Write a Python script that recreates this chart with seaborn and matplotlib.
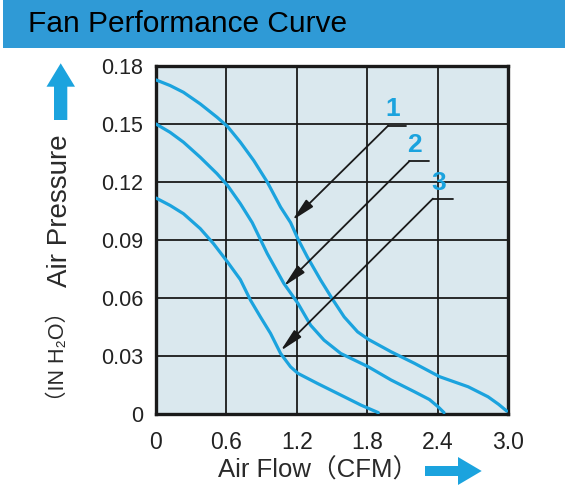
import matplotlib
matplotlib.use("Agg")
import matplotlib.pyplot as plt
from matplotlib.patches import Rectangle, Polygon, ArrowStyle
import seaborn as sns
import pandas as pd

# ---- data ----
curve1_x = [0.0, 0.12, 0.234, 0.377, 0.52, 0.61, 0.719, 0.833, 0.948, 1.062, 1.147, 1.21, 1.29, 1.404,
            1.504, 1.604, 1.718, 1.81, 2.003, 2.203, 2.417, 2.66, 2.83, 2.92, 2.99]
curve1_y = [0.1728, 0.1699, 0.1664, 0.1604, 0.1535, 0.1487, 0.1406, 0.1311, 0.120, 0.107, 0.0990, 0.0905,
            0.0812, 0.0692, 0.0594, 0.0502, 0.0425, 0.0386, 0.0322, 0.0262, 0.0193, 0.0141, 0.0089, 0.0050, 0.0015]

curve2_x = [0.0, 0.12, 0.234, 0.377, 0.52, 0.61, 0.719, 0.82, 0.948, 1.09, 1.21, 1.318, 1.432, 1.575,
            1.81, 2.003, 2.203, 2.33, 2.403, 2.455]
curve2_y = [0.1500, 0.1457, 0.1406, 0.1328, 0.1243, 0.1182, 0.1088, 0.0990, 0.0830, 0.0675, 0.0572, 0.0459,
            0.0382, 0.0313, 0.0244, 0.0176, 0.0115, 0.0075, 0.0038, 0.0007]

curve3_x = [0.0, 0.12, 0.234, 0.377, 0.49, 0.61, 0.719, 0.805, 0.89, 0.976, 1.062, 1.147, 1.21, 1.376,
            1.575, 1.747, 1.895]
curve3_y = [0.1117, 0.1079, 0.1036, 0.0959, 0.0881, 0.0786, 0.0695, 0.0589, 0.0502, 0.0417, 0.0313, 0.0244,
            0.0210, 0.0158, 0.0098, 0.0046, 0.0007]

curve_names = ["1", "2", "3"]

x_ticks = [0, 0.6, 1.2, 1.8, 2.4, 3.0]
x_tick_labels = ["0", "0.6", "1.2", "1.8", "2.4", "3.0"]
y_ticks = [0, 0.03, 0.06, 0.09, 0.12, 0.15, 0.18]
y_tick_labels = ["0", "0.03", "0.06", "0.09", "0.12", "0.15", "0.18"]

# callout positions (data coords): label, elbow start, horizontal end, arrow tip
callout_label_xy = [(2.018, 0.1578), (2.203, 0.1389), (2.408, 0.1194)]
callout_start_xy = [(1.980, 0.1492), (2.160, 0.1308), (2.360, 0.1114)]
callout_end_x = [2.132, 2.323, 2.532]
callout_tip_xy = [(1.162, 0.1002), (1.090, 0.0661), (1.062, 0.0327)]

title_text = "Fan Performance Curve"
xlabel_text = "Air Flow\uff08CFM\uff09"
ylabel_main = "Air Pressure"
ylabel_unit = "\uff08IN H\u2082O\uff09"

# ---- build table ----
frames = []
for name, xs, ys in zip(curve_names, [curve1_x, curve2_x, curve3_x], [curve1_y, curve2_y, curve3_y]):
    frames.append(pd.DataFrame({"flow": xs, "pressure": ys, "curve": name}))
df = pd.concat(frames, ignore_index=True)

sns.set_style("white")
plt.rcParams["font.family"] = ["Liberation Sans", "Noto Sans CJK SC", "DejaVu Sans"]

W, H = 568, 495
fig = plt.figure(figsize=(W / 100, H / 100), dpi=100)

def fx(px):
    return px / W

def fy(py):
    return 1 - py / H

BLUE = "#1BA3DE"

# Title banner
fig.patches.append(Rectangle((fx(3), fy(48)), fx(562), 48 / H, transform=fig.transFigure,
                             facecolor="#2F9AD6", edgecolor="none", zorder=0))
fig.text(fx(28), fy(32), title_text, fontsize=21.5, color="black", ha="left", va="baseline")

# Axes
ax = fig.add_axes([fx(156), 81 / H, 352 / W, 348 / H])
ax.set_facecolor("#DAE8EE")
sns.lineplot(data=df, x="flow", y="pressure", hue="curve", palette=[BLUE] * 3,
             sort=False, legend=False, linewidth=2.3, ax=ax, zorder=3)
for ln in ax.get_lines():
    ln.set_solid_joinstyle("round")
    ln.set_solid_capstyle("round")
ax.set_xlim(0, 3.0)
ax.set_ylim(0, 0.18)
ax.set_xticks(x_ticks)
ax.set_xticklabels(x_tick_labels)
ax.set_yticks(y_ticks)
ax.set_yticklabels(y_tick_labels)
ax.tick_params(axis="x", length=0, pad=12, labelsize=16.5, labelcolor="#222222")
ax.tick_params(axis="y", length=0, pad=9, labelsize=15.5, labelcolor="#222222")
ax.grid(True, color="#1a1a1a", linewidth=1.3)
ax.set_axisbelow(True)
for s in ax.spines.values():
    s.set_color("#1a1a1a")
    s.set_linewidth(2.4)
    s.set_visible(True)
ax.set_xlabel("")
ax.set_ylabel("")

# Callouts
for lab, (lx, ly), (sx, sy), ex, (tx, ty) in zip(curve_names, callout_label_xy, callout_start_xy,
                                                    callout_end_x, callout_tip_xy):
    ax.plot([sx, ex], [sy, sy], color="#1a1a1a", linewidth=1.3, zorder=4)
    ax.annotate("", xy=(tx, ty), xytext=(sx, sy),
                arrowprops=dict(arrowstyle=ArrowStyle("-|>", head_length=1.4, head_width=0.3),
                                color="#1a1a1a", linewidth=1.3, shrinkA=0, shrinkB=0,
                                mutation_scale=10),
                zorder=4)
    ax.text(lx, ly, lab, color=BLUE, fontsize=19, fontweight="bold", ha="center", va="center", zorder=5)

# Axis labels
fig.text(fx(318), fy(470), xlabel_text, fontsize=18.5, color="#2a2a2a", ha="center", va="center")
fig.text(fx(60), fy(211), ylabel_main, fontsize=20, color="#2a2a2a", rotation=90, ha="center", va="center")
fig.text(fx(58), fy(356), ylabel_unit, fontsize=15.5, color="#2a2a2a", rotation=90, ha="center", va="center")

# Blue arrows next to axis labels
up = [(60.7, 63.3), (75, 86.7), (67.3, 86.7), (67.3, 120), (54, 120), (54, 86.7), (46.5, 86.7)]
right = [(481.7, 471), (458, 457), (458, 466), (425, 466), (425, 476), (458, 476), (458, 485)]
for pts in (up, right):
    fig.patches.append(Polygon([(fx(a), fy(b)) for a, b in pts], closed=True,
                               transform=fig.transFigure, facecolor=BLUE, edgecolor="none"))

fig.savefig("out.png", dpi=100)
